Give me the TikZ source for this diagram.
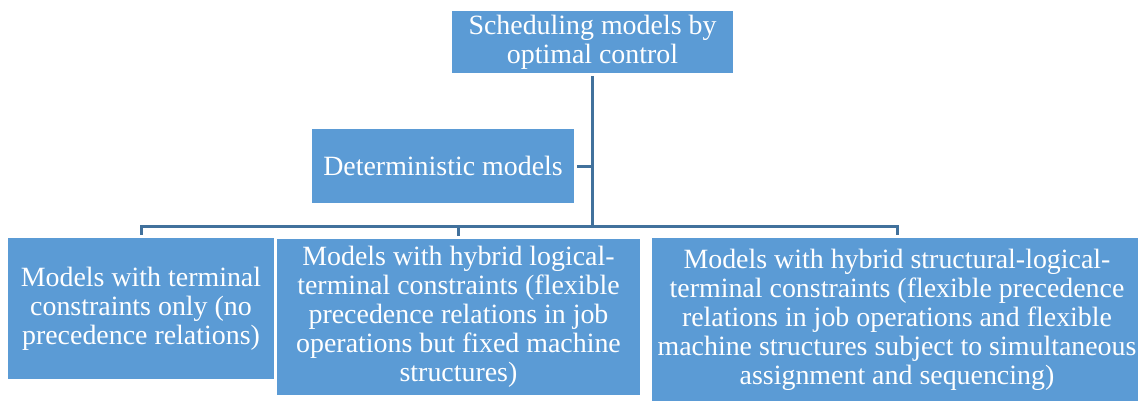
\documentclass[tikz,border=0pt]{standalone}
\usepackage{fontspec}
\setmainfont{Liberation Serif}
\definecolor{boxblue}{HTML}{5B9BD5}
\definecolor{linkblue}{HTML}{41719C}

\begin{document}
\begin{tikzpicture}[x=1pt,y=-1pt,auto]
\tikzstyle{mbox}=[rectangle,fill=boxblue,text=white,align=center,inner sep=0pt,font=\fontsize{27.9}{29}\selectfont]
\tikzstyle{link}=[draw=linkblue,line width=3pt]
\useasboundingbox (0,0) rectangle (1138,400);
\node[mbox,minimum width=281,minimum height=62](top) at (592.5,42) {Scheduling models by\\optimal control};
\node[mbox,minimum width=262,minimum height=74](det) at (443,166) {Deterministic models};
\node[mbox,minimum width=266,minimum height=141](term) at (141,308.5) {Models with terminal\\constraints only (no\\precedence relations)};
\node[mbox,minimum width=363,minimum height=156](logic) at (458.5,317) {Models with hybrid logical-\\terminal constraints (flexible\\precedence relations in job\\operations but fixed machine\\structures)};
\node[mbox,minimum width=490,minimum height=164](struct) at (897,320) {Models with hybrid structural-logical-\\terminal constraints (flexible precedence\\relations in job operations and flexible\\machine structures subject to simultaneous\\assignment and sequencing)};
\coordinate (hub) at (592.5,226);

\draw[link,shorten <=3pt,shorten >=3pt] (top) -- (hub) -| (term.north); % trunk
\draw[link,shorten <=3pt] (det.east) -- (det.east -| hub);
\draw[link,shorten >=3pt] (hub) -| (logic.north);
\draw[link,shorten >=3pt] (hub) -| (struct.north);

\end{tikzpicture}
\end{document}
